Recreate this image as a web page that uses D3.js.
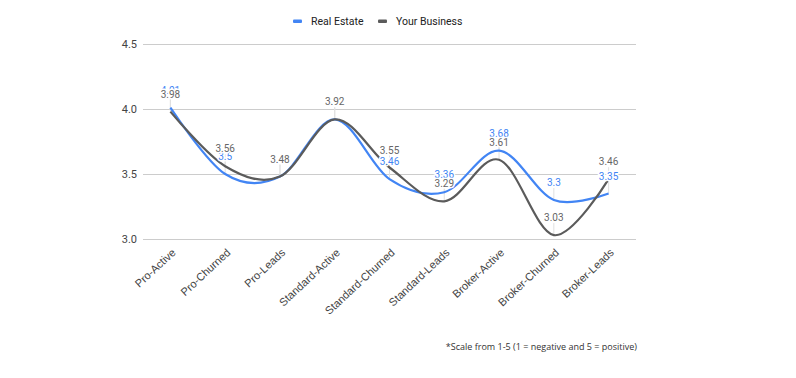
<!DOCTYPE html>
<html><head><meta charset="utf-8">
<script src="https://cdn.jsdelivr.net/npm/d3@7"></script>
<style>body{margin:0;background:#fff}svg{display:block}</style>
</head><body>
<svg id="c" width="796" height="378"></svg>
<script>
const categories = ["Pro-Active","Pro-Churned","Pro-Leads","Standard-Active","Standard-Churned","Standard-Leads","Broker-Active","Broker-Churned","Broker-Leads"];
const realEstate = [4.01,3.5,3.48,3.92,3.46,3.36,3.68,3.3,3.35];
const yourBusiness = [3.98,3.56,3.48,3.92,3.55,3.29,3.61,3.03,3.46];
const seriesNames = ["Real Estate","Your Business"];
const yTicks = [3.0,3.5,4.0,4.5];
const footnote = "*Scale from 1-5 (1 = negative and 5 = positive)";

const colors = ["#4285f4","#5b5b5b"];
const labelColors = ["#4285f4","#666666"];
const svg = d3.select("#c");
const plotLeft = 143, plotRight = 636, plotTop = 44, plotBottom = 239;

const x = d3.scalePoint().domain(categories).range([plotLeft, plotRight]).padding(0.5);
const y = d3.scaleLinear().domain([3.0,4.5]).range([plotBottom, plotTop]);

// gridlines + y labels
const yAxis = d3.axisLeft(y).tickValues(yTicks).tickSize(-(plotRight-plotLeft)).tickFormat(d3.format(".1f")).tickPadding(6);
const gy = svg.append("g").attr("transform",`translate(${plotLeft},0)`).call(yAxis);
gy.select(".domain").remove();
gy.selectAll(".tick line").attr("stroke","#cccccc");
gy.selectAll(".tick text").attr("fill","#444").style("font-family","Roboto, Arial, sans-serif").style("font-size","11px");

// x labels
const xAxis = d3.axisBottom(x).tickSize(0).tickPadding(0);
const gx = svg.append("g").attr("transform",`translate(0,${plotBottom})`).call(xAxis);
gx.select(".domain").remove();
gx.selectAll(".tick text")
  .attr("fill","#444").style("font-family","'Liberation Sans', Arial, sans-serif").style("font-size","11px")
  .attr("text-anchor","end").attr("dy",0).attr("y",0)
  .attr("transform","translate(5.5,14.5) rotate(-43)");

const series = [realEstate, yourBusiness];
const line = d3.line().x((d,i)=>x(categories[i])).y(d=>y(d)).curve(d3.curveCardinal.tension(0));

// leader lines
series.forEach((s,si)=>{
  svg.append("g").selectAll("line").data(s).join("line")
    .attr("x1",(d,i)=>x(categories[i])).attr("x2",(d,i)=>x(categories[i]))
    .attr("y1",d=>y(d)-12).attr("y2",d=>y(d))
    .attr("stroke","#e0e0e0").attr("stroke-width",1);
});

series.forEach((s,si)=>{
  svg.append("path").datum(s).attr("d",line).attr("fill","none")
    .attr("stroke",colors[si]).attr("stroke-width",2.2).attr("stroke-linejoin","round");
});

series.forEach((s,si)=>{
  svg.append("g").selectAll("text").data(s).join("text")
    .attr("x",(d,i)=>x(categories[i])).attr("y",d=>y(d)-14)
    .attr("text-anchor","middle")
    .attr("fill",labelColors[si])
    .attr("stroke","#fff").attr("stroke-width",3).attr("paint-order","stroke").attr("stroke-linejoin","round")
    .style("font-family","Roboto, Arial, sans-serif").style("font-size","10px")
    .text(d=>String(d));
});

// legend
const lg = svg.append("g").style("font-family","Roboto, Arial, sans-serif").style("font-size","10.5px");
const legendX = [293, 378];
seriesNames.forEach((n,i)=>{
  lg.append("rect").attr("x",legendX[i]).attr("y",19.5).attr("width",9).attr("height",3.5).attr("rx",1).attr("fill",colors[i]);
  lg.append("text").attr("x",legendX[i]+18).attr("y",25).attr("fill","#222").text(n);
});

svg.append("text").attr("x",637).attr("y",350).attr("text-anchor","end")
  .attr("fill","#333").style("font-family","'Open Sans', sans-serif").style("font-size","9px").text(footnote);
</script>
</body></html>
